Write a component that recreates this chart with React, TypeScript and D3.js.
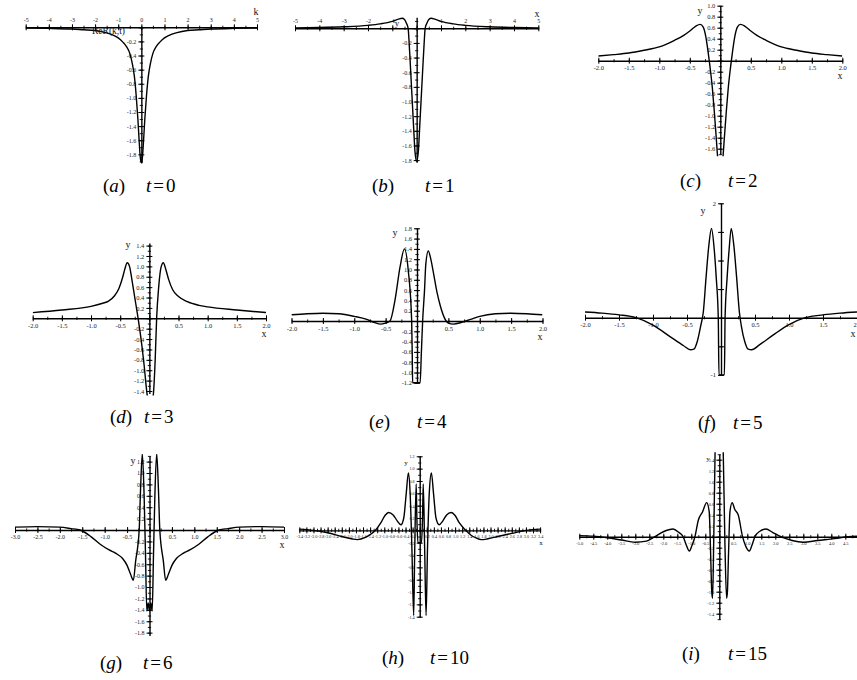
import React, { useEffect, useRef } from "react";
import * as d3 from "d3";

type Pt = [number, number];

// curves, one per time step
const curveA: Pt[] = [
  [-5, -0.01], [-4, -0.015], [-3, -0.025], [-2.5, -0.035], [-2, -0.045], [-1.5, -0.08], [-1.2, -0.115],
  [-1, -0.15], [-0.8, -0.21], [-0.65, -0.27], [-0.5, -0.37], [-0.4, -0.5], [-0.3, -0.7], [-0.22, -0.98],
  [-0.15, -1.3], [-0.1, -1.58], [-0.05, -1.83], [0, -1.92], [0.05, -1.83], [0.1, -1.58], [0.15, -1.3],
  [0.22, -0.98], [0.3, -0.7], [0.4, -0.5], [0.5, -0.37], [0.65, -0.27], [0.8, -0.21], [1, -0.15],
  [1.2, -0.115], [1.5, -0.08], [2, -0.045], [2.5, -0.035], [3, -0.025], [4, -0.015], [5, -0.01],
];

const curveB: Pt[] = [
  [-5, 0.005], [-4, 0.01], [-3, 0.02], [-2, 0.04], [-1.5, 0.06], [-1, 0.095], [-0.75, 0.125], [-0.6, 0.137],
  [-0.5, 0.12], [-0.42, 0.07], [-0.35, 0], [-0.3, -0.25], [-0.24, -0.62], [-0.18, -1.0], [-0.12, -1.38],
  [-0.07, -1.68], [0, -1.82], [0.07, -1.68], [0.12, -1.38], [0.18, -1.0], [0.24, -0.62], [0.3, -0.25],
  [0.35, 0], [0.42, 0.07], [0.5, 0.12], [0.6, 0.137], [0.75, 0.125], [1, 0.095], [1.5, 0.06], [2, 0.04],
  [3, 0.02], [4, 0.01], [5, 0.005],
];

const curveC: Pt[] = [
  [-2, 0.085], [-1.75, 0.11], [-1.5, 0.14], [-1.25, 0.19], [-1, 0.25], [-0.75, 0.37], [-0.6, 0.46],
  [-0.5, 0.54], [-0.4, 0.63], [-0.33, 0.66], [-0.28, 0.61], [-0.24, 0.45], [-0.2, 0.16], [-0.17, -0.1],
  [-0.13, -0.5], [-0.1, -0.9], [-0.07, -1.35], [-0.04, -1.8], [0, -2.1], [0.04, -1.8], [0.07, -1.35],
  [0.1, -0.9], [0.13, -0.5], [0.17, -0.1], [0.2, 0.16], [0.24, 0.45], [0.28, 0.61], [0.33, 0.66],
  [0.4, 0.63], [0.5, 0.54], [0.6, 0.46], [0.75, 0.37], [1, 0.25], [1.25, 0.19], [1.5, 0.14], [1.75, 0.11],
  [2, 0.085],
];

const curveD: Pt[] = [
  [-2, 0.11], [-1.5, 0.16], [-1, 0.23], [-0.8, 0.29], [-0.7, 0.33], [-0.6, 0.43], [-0.52, 0.58],
  [-0.46, 0.78], [-0.42, 0.95], [-0.38, 1.07], [-0.34, 1.0], [-0.3, 0.75], [-0.25, 0.4], [-0.2, 0.05],
  [-0.14, -0.42], [-0.09, -0.9], [-0.04, -1.45], [0.02, -1.75], [0.07, -1.45], [0.1, -0.8], [0.125, 0],
  [0.16, 0.6], [0.2, 0.98], [0.24, 1.07], [0.28, 0.95], [0.33, 0.75], [0.4, 0.55], [0.5, 0.42],
  [0.65, 0.32], [0.85, 0.25], [1, 0.22], [1.5, 0.16], [2, 0.11],
];

const curveE: Pt[] = [
  [-2, 0.12], [-1.75, 0.14], [-1.5, 0.15], [-1.25, 0.14], [-1, 0.09], [-0.8, 0.03], [-0.7, -0.02],
  [-0.59, -0.06], [-0.5, -0.04], [-0.43, 0], [-0.35, 0.41], [-0.27, 1.05], [-0.2, 1.4], [-0.14, 0.99],
  [-0.085, 0], [-0.075, -0.7], [-0.07, -1.2], [0.05, -1.2], [0.07, -0.6], [0.09, 0], [0.12, 0.6],
  [0.14, 1.1], [0.18, 1.36], [0.22, 1.2], [0.26, 0.95], [0.32, 0.55], [0.37, 0.3], [0.43, 0.08],
  [0.5, -0.04], [0.58, -0.06], [0.7, -0.03], [0.85, 0.03], [1, 0.09], [1.25, 0.14], [1.5, 0.15],
  [1.75, 0.14], [2, 0.12],
];

const curveF: Pt[] = [
  [-2, 0.1], [-1.75, 0.08], [-1.5, 0.05], [-1.25, 0], [-1, -0.13], [-0.75, -0.33], [-0.55, -0.49],
  [-0.45, -0.56], [-0.4, -0.55], [-0.35, -0.42], [-0.3, -0.15], [-0.26, 0.1], [-0.22, 0.7], [-0.18, 1.25],
  [-0.14, 1.56], [-0.1, 1.2], [-0.07, 0.7], [-0.04, 0], [-0.03, -1], [0.05, -1], [0.06, 0], [0.09, 0.7],
  [0.12, 1.2], [0.15, 1.56], [0.19, 1.25], [0.23, 0.7], [0.27, 0.1], [0.3, -0.15], [0.35, -0.42],
  [0.4, -0.55], [0.45, -0.56], [0.57, -0.47], [0.77, -0.3], [1, -0.12], [1.24, 0], [1.5, 0.05],
  [1.75, 0.08], [2, 0.1],
];

const curveG: Pt[] = [
  [-3, 0.05], [-2.5, 0.06], [-2, 0.05], [-1.75, 0.025], [-1.55, 0], [-1.3, -0.12], [-1.1, -0.25],
  [-0.9, -0.35], [-0.75, -0.41], [-0.6, -0.5], [-0.5, -0.62], [-0.42, -0.78], [-0.36, -0.88],
  [-0.31, -0.55], [-0.23, 0], [-0.2, 0.7], [-0.16, 1.34], [-0.12, 0.6], [-0.09, -0.4], [-0.06, -1.42],
  [-0.03, -1.28], [0, -1.42], [0.03, -1.28], [0.06, -1.42], [0.09, -0.4], [0.12, 0.6], [0.16, 1.34],
  [0.2, 0.7], [0.23, 0], [0.31, -0.55], [0.36, -0.88], [0.42, -0.78], [0.5, -0.62], [0.6, -0.5],
  [0.75, -0.41], [0.9, -0.35], [1.1, -0.25], [1.3, -0.12], [1.55, 0], [1.75, 0.025], [2, 0.05],
  [2.5, 0.06], [3, 0.05],
];

const curveH: Pt[] = [
  [-3.4, 0.02], [-3, 0], [-2.6, -0.04], [-2.2, -0.1], [-1.9, -0.14], [-1.76, -0.15], [-1.55, -0.12],
  [-1.4, -0.07], [-1.25, 0], [-1.1, 0.12], [-0.98, 0.24], [-0.88, 0.29], [-0.75, 0.25], [-0.63, 0.15],
  [-0.53, 0.09], [-0.45, 0.2], [-0.38, 0.6], [-0.32, 0.93], [-0.27, 0.6], [-0.22, -0.3], [-0.17, -1.38],
  [-0.14, -0.3], [-0.1, 0.75], [-0.08, 0.2], [-0.05, -0.2], [0.05, -0.2], [0.08, 0.2], [0.1, 0.75],
  [0.14, -0.3], [0.18, -1.38], [0.22, -0.3], [0.27, 0.6], [0.33, 0.93], [0.39, 0.6], [0.46, 0.2],
  [0.55, 0.09], [0.65, 0.15], [0.76, 0.25], [0.89, 0.29], [1, 0.24], [1.12, 0.12], [1.3, 0],
  [1.45, -0.08], [1.58, -0.12], [1.74, -0.15], [1.9, -0.14], [2.2, -0.1], [2.6, -0.05], [3, 0],
  [3.4, 0.02],
];

const curveI: Pt[] = [
  [-5, 0.02], [-4.5, 0.01], [-4, -0.02], [-3.5, -0.06], [-3, -0.1], [-2.6, -0.08], [-2.3, 0], [-2, 0.09],
  [-1.65, 0.14], [-1.45, 0.08], [-1.29, 0], [-1.18, -0.15], [-1.07, -0.26], [-0.97, -0.15], [-0.87, 0],
  [-0.75, 0.3], [-0.6, 0.45], [-0.45, 0.62], [-0.36, 0.45], [-0.31, -0.3], [-0.27, -1.0], [-0.24, -1.12],
  [-0.2, -0.1], [-0.15, 1.55], [-0.1, 2.2], [0, 2.6], [0.1, 2.2], [0.14, 1.55], [0.2, -0.1],
  [0.26, -1.12], [0.29, -1.0], [0.33, -0.3], [0.38, 0.45], [0.46, 0.62], [0.55, 0.5], [0.68, 0.39],
  [0.83, 0], [0.95, -0.18], [1.07, -0.26], [1.17, -0.15], [1.27, 0], [1.45, 0.1], [1.67, 0.14],
  [1.9, 0.08], [2.2, 0], [2.6, -0.07], [3, -0.1], [3.5, -0.07], [4.2, -0.03], [4.6, 0], [5, 0.01],
];

const letters = ["a", "b", "c", "d", "e", "f", "g", "h", "i"];
const times = ["0", "1", "2", "3", "4", "5", "6", "10", "15"];
const fLabels = [2, -1];

type Spec = {
  data: Pt[];
  xd: [number, number]; xr: [number, number];
  yd: [number, number]; yr: [number, number];
  xStep: number; xMinor: number; yStep: number; yMinor: number;
  digits: number; above?: boolean; keep0?: boolean; fs: number;
  yLabels?: number[];
  names: { t: string; x: number; y: number; fs: number; anchor?: string }[];
  cap: [number, number, number];
};

const specs: Spec[] = [
  { data: curveA, xd: [-5, 5], xr: [25.7, 257], yd: [-1.92, 0], yr: [162.8, 27.3],
    xStep: 1, xMinor: 0.5, yStep: 0.2, yMinor: 0.1, digits: 0, above: true, keep0: true, fs: 6,
    names: [{ t: "k", x: 256, y: 13, fs: 10 }, { t: "ReR(k,t)", x: 92, y: 32, fs: 9.5, anchor: "start" }],
    cap: [103, 146, 192] },
  { data: curveB, xd: [-5, 5], xr: [295, 538.3], yd: [-1.83, 0.15], yr: [162.3, 17.3],
    xStep: 1, xMinor: 0.5, yStep: 0.2, yMinor: 0.1, digits: 0, above: true, fs: 6,
    names: [{ t: "x", x: 537, y: 15, fs: 10 }, { t: "y", x: 397, y: 24, fs: 9 }],
    cap: [372, 425, 192] },
  { data: curveC, xd: [-2, 2], xr: [598.3, 842.3], yd: [-1.7, 1.0], yr: [154.2, 5.7],
    xStep: 0.5, xMinor: 0.25, yStep: 0.2, yMinor: 0.1, digits: 1, fs: 6.5,
    names: [{ t: "y", x: 700, y: 12, fs: 10 }, { t: "x", x: 840, y: 77, fs: 10 }],
    cap: [680, 728, 187] },
  { data: curveD, xd: [-2, 2], xr: [32.7, 266], yd: [-1.45, 1.45], yr: [393.6, 243],
    xStep: 0.5, xMinor: 0.25, yStep: 0.2, yMinor: 0.1, digits: 1, fs: 6.5,
    names: [{ t: "y", x: 128, y: 246, fs: 10 }, { t: "x", x: 264, y: 335, fs: 10 }],
    cap: [110, 144, 423] },
  { data: curveE, xd: [-2, 2], xr: [291.5, 542.5], yd: [-1.2, 1.8], yr: [382.8, 228.3],
    xStep: 0.5, xMinor: 0.25, yStep: 0.2, yMinor: 0.1, digits: 1, fs: 6.5,
    names: [{ t: "y", x: 395, y: 234, fs: 10 }, { t: "x", x: 540, y: 338, fs: 10 }],
    cap: [369, 417, 428] },
  { data: curveF, xd: [-2, 2], xr: [585, 857], yd: [-1, 2], yr: [374.9, 203.3],
    xStep: 0.5, xMinor: 0.25, yStep: 0.5, yMinor: 0.5, digits: 1, fs: 6.5, yLabels: fLabels,
    names: [{ t: "y", x: 703, y: 212, fs: 10 }, { t: "x", x: 853, y: 335, fs: 10 }],
    cap: [698, 733, 429] },
  { data: curveG, xd: [-3, 3], xr: [15, 284], yd: [-1.85, 1.3], yr: [635.5, 455.9],
    xStep: 0.5, xMinor: 0.25, yStep: 0.2, yMinor: 0.1, digits: 1, fs: 6,
    names: [{ t: "y", x: 133, y: 462, fs: 10 }, { t: "x", x: 282, y: 546, fs: 10 }],
    cap: [100, 143, 669] },
  { data: curveH, xd: [-3.4, 3.4], xr: [299.3, 540.1], yd: [-1.4, 1.2], yr: [616.7, 456.3],
    xStep: 0.2, xMinor: 0.1, yStep: 0.2, yMinor: 0.1, digits: 1, fs: 4.2,
    names: [{ t: "y", x: 406, y: 463, fs: 7 }, { t: "x", x: 541, y: 543, fs: 7 }],
    cap: [382, 430, 664] },
  { data: curveI, xd: [-5, 5], xr: [579.3, 859.3], yd: [-1.5, 1.5], yr: [619.2, 454.2],
    xStep: 0.5, xMinor: 0.25, yStep: 0.2, yMinor: 0.1, digits: 1, fs: 4.5,
    names: [{ t: "y", x: 708, y: 459, fs: 7 }],
    cap: [682, 728, 660] },
];

const FONT = "'Liberation Serif', 'DejaVu Serif', serif";

function steps(lo: number, hi: number, step: number) {
  const a = Math.ceil(lo / step - 1e-6), b = Math.floor(hi / step + 1e-6);
  return d3.range(a, b + 1).map((i) => +(i * step).toFixed(4));
}

function drawPanel(svg: any, p: Spec, i: number) {
  const x = d3.scaleLinear().domain(p.xd).range(p.xr);
  const y = d3.scaleLinear().domain(p.yd).range(p.yr);
  const g = svg.append("g");

  const clipId = "clip-" + letters[i];
  g.append("clipPath").attr("id", clipId).append("rect")
    .attr("x", p.xr[0]).attr("width", p.xr[1] - p.xr[0])
    .attr("y", p.yr[1] - 2).attr("height", p.yr[0] - p.yr[1] + 4);

  const mk = p.above ? d3.axisTop : d3.axisBottom;
  const y0 = y(0);
  const fmt = (d: number) => ((d === 0 && !p.keep0) ? "" : d.toFixed(p.digits));

  // x axis: minor, then major with labels
  g.append("g").attr("transform", `translate(0,${y0})`)
    .call(mk(x).tickValues(steps(p.xd[0], p.xd[1], p.xMinor)).tickSize(1.6).tickSizeOuter(0).tickFormat(() => ""))
    .call((a: any) => a.select(".domain").remove())
    .call((a: any) => a.selectAll(".tick line").attr("y1", -1.6).attr("y2", 1.6).attr("stroke-width", 0.9));
  g.append("g").attr("transform", `translate(0,${y0})`)
    .call(mk(x).tickValues(steps(p.xd[0], p.xd[1], p.xStep)).tickSize(3).tickPadding(2).tickSizeOuter(0)
      .tickFormat((d: any) => fmt(+d)))
    .attr("font-family", FONT).attr("font-size", p.fs)
    .call((a: any) => a.select(".domain").attr("stroke-width", 1.4))
    .call((a: any) => a.selectAll(".tick line").attr("y1", -3).attr("y2", 3).attr("stroke-width", 1))
    .call((a: any) => a.selectAll(".tick text").attr("fill", "#222"));

  // y axis
  const x0 = x(0);
  g.append("g").attr("transform", `translate(${x0},0)`)
    .call(d3.axisLeft(y).tickValues(steps(p.yd[0], p.yd[1], p.yMinor)).tickSize(1.6).tickSizeOuter(0).tickFormat(() => ""))
    .call((a: any) => a.select(".domain").remove())
    .call((a: any) => a.selectAll(".tick line").attr("x1", -1.6).attr("x2", 1.6).attr("stroke-width", 0.9));
  const yMajor = steps(p.yd[0], p.yd[1], p.yStep);
  g.append("g").attr("transform", `translate(${x0},0)`)
    .call(d3.axisLeft(y).tickValues(yMajor).tickSize(3).tickPadding(2).tickSizeOuter(0)
      .tickFormat((d: any) => {
        const v = +d;
        if (v === 0) return "";
        if (p.yLabels) return p.yLabels.includes(v) ? String(v) : "";
        return v.toFixed(1);
      }))
    .attr("font-family", FONT).attr("font-size", p.fs)
    .call((a: any) => a.select(".domain").attr("stroke-width", 1.4))
    .call((a: any) => a.selectAll(".tick line").attr("x1", -3).attr("x2", 3).attr("stroke-width", 1))
    .call((a: any) => a.selectAll(".tick text").attr("fill", "#222"));

  // curve
  const line = d3.line<Pt>().x((d) => x(d[0])).y((d) => y(d[1])).curve(d3.curveMonotoneX);
  g.append("path").datum(p.data)
    .attr("clip-path", `url(#${clipId})`)
    .attr("fill", "none").attr("stroke", "#000").attr("stroke-width", 1.4)
    .attr("stroke-linejoin", "round")
    .attr("d", line);

  // axis names
  p.names.forEach((n) => {
    g.append("text").attr("x", n.x).attr("y", n.y)
      .attr("text-anchor", n.anchor || "middle").attr("dominant-baseline", "middle")
      .attr("font-family", FONT).attr("font-size", n.fs).attr("fill", "#111")
      .text(n.t);
  });

  // caption "(a)   t=0"
  const [cx, tx, cy] = p.cap;
  const c1 = g.append("text").attr("x", cx).attr("y", cy)
    .attr("font-family", FONT).attr("font-size", 19).attr("fill", "#000");
  c1.append("tspan").text("(");
  c1.append("tspan").attr("font-style", "italic").text(letters[i]);
  c1.append("tspan").text(")");
  const c2 = g.append("text").attr("x", tx).attr("y", cy)
    .attr("font-family", FONT).attr("font-size", 19).attr("fill", "#000");
  c2.append("tspan").attr("font-style", "italic").text("t");
  c2.append("tspan").attr("dx", 2).text("=");
  c2.append("tspan").attr("dx", 2).text(times[i]);
}

export default function App() {
  const ref = useRef<SVGSVGElement>(null);

  useEffect(() => {
    const svg = d3.select(ref.current);
    svg.selectAll("*").remove();
    specs.forEach((p, i) => drawPanel(svg, p, i));
  }, []);

  return (
    <svg
      ref={ref}
      width={857}
      height={680}
      style={{ position: "absolute", left: 0, top: 0, background: "#fff" }}
    />
  );
}
